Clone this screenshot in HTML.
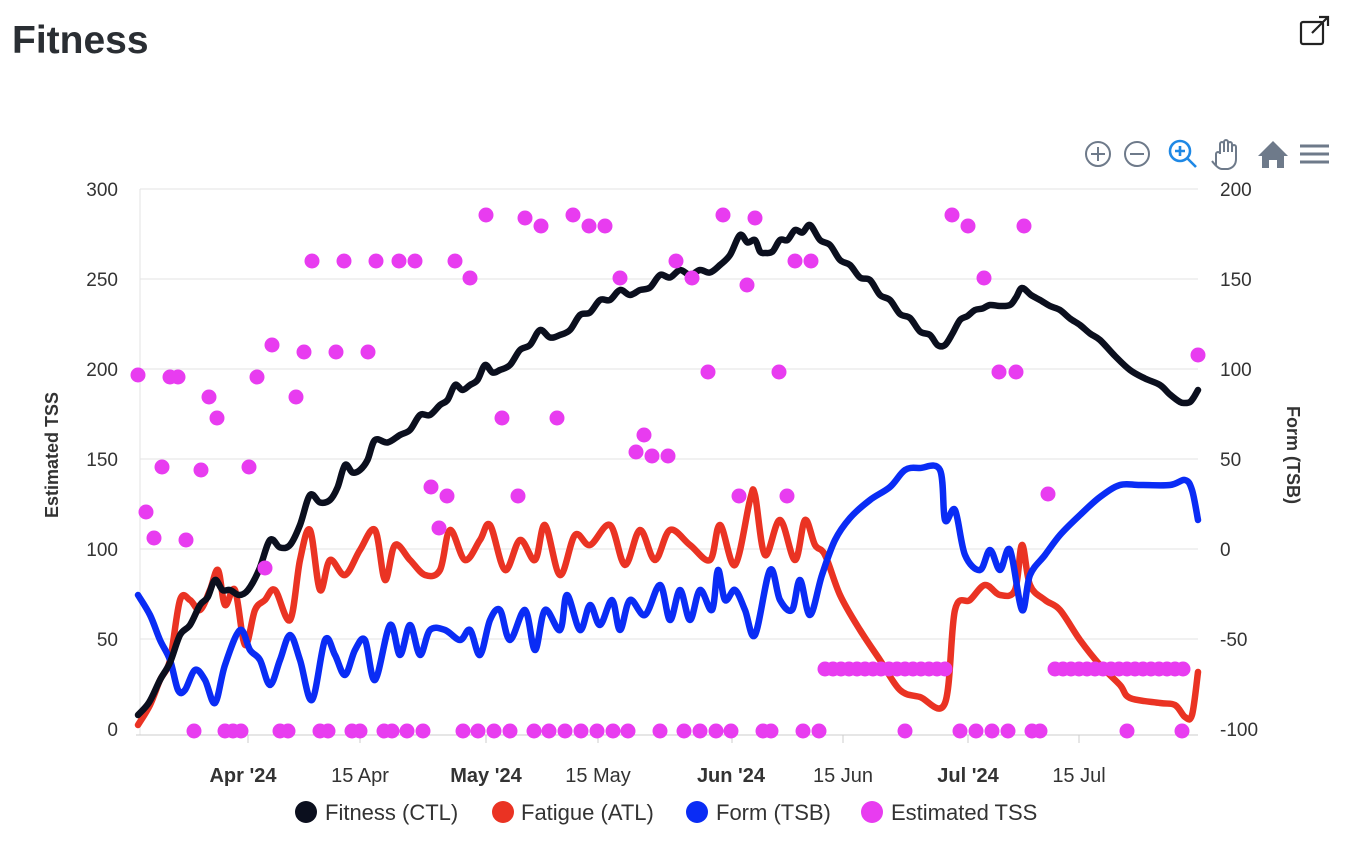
<!DOCTYPE html>
<html><head><meta charset="utf-8"><style>
html,body{margin:0;padding:0;background:#fff;width:1364px;height:866px;overflow:hidden;font-family:"Liberation Sans",sans-serif}
</style></head><body>
<svg id="s" width="1364" height="866" xmlns="http://www.w3.org/2000/svg" font-family="Liberation Sans, sans-serif">
<text x="12" y="53" font-size="39" font-weight="bold" fill="#2a2e33">Fitness</text>
<g stroke="#222" stroke-width="2.2" fill="none"><rect x="1301" y="22" width="22" height="22" rx="2"/><path d="M1312 33 L1328 17 M1319 17 H1328 V26"/></g>
<g stroke="#6e7a8a" stroke-width="2" fill="none">
<circle cx="1098" cy="154" r="12"/><path d="M1091 154h14M1098 147v14"/>
<circle cx="1137" cy="154" r="12"/><path d="M1130 154h14"/>
</g>
<g stroke="#1e88e5" stroke-width="2.6" fill="none"><circle cx="1180" cy="151" r="10"/><path d="M1187 158l9 9M1175 151h10M1180 146v10"/></g>
<path d="M1216 166 v-12 a2 2 0 0 1 4 0 v-10 a2 2 0 0 1 4 0 v8 v-10 a2 2 0 0 1 4 0 v10 v-8 a2 2 0 0 1 4 0 v8 v-5 a2 2 0 0 1 4 0 v12 q0 8 -8 10 h-6 q-4 0 -10 -8" stroke="#6e7a8a" stroke-width="2" fill="none"/>
<path d="M1258 156 L1273 141 L1288 156 H1284 V168 H1277 V160 H1269 V168 H1262 V156Z" fill="#6e7a8a"/>
<g stroke="#6e7a8a" stroke-width="3"><path d="M1300 146h29M1300 154h29M1300 162h29"/></g>
<g id="grid" stroke="#e3e3e3" stroke-width="1"></g>
<line x1="140" y1="189" x2="140" y2="735" stroke="#e3e3e3"/>
<line x1="136" y1="735" x2="1198" y2="735" stroke="#ccc"/>
<g id="lt" font-size="19" fill="#333" text-anchor="end"></g>
<g id="rt" font-size="19" fill="#333"></g>
<text transform="translate(58,455) rotate(-90)" font-size="18" font-weight="bold" fill="#333" text-anchor="middle">Estimated TSS</text>
<text transform="translate(1287,455) rotate(90)" font-size="18" font-weight="bold" fill="#333" text-anchor="middle">Form (TSB)</text>
<g font-size="20" fill="#333" text-anchor="middle">
<text x="243" y="782" font-weight="bold">Apr '24</text><text x="360" y="782">15 Apr</text>
<text x="486" y="782" font-weight="bold">May '24</text><text x="598" y="782">15 May</text>
<text x="731" y="782" font-weight="bold">Jun '24</text><text x="843" y="782">15 Jun</text>
<text x="968" y="782" font-weight="bold">Jul '24</text><text x="1079" y="782">15 Jul</text>
</g>
<g stroke="#ccc"><path d="M248 735v8M360 735v8M486 735v8M598 735v8M732 735v8M843 735v8M968 735v8M1079 735v8"/></g>
<g id="lines" fill="none" stroke-width="6.5" stroke-linejoin="round" stroke-linecap="round"></g>
<g id="dots" fill="#e83cf0"></g>
<g font-size="22" fill="#333">
<circle cx="306" cy="812" r="11" fill="#0b0f1e"/><text x="325" y="820">Fitness (CTL)</text>
<circle cx="503" cy="812" r="11" fill="#ea3323"/><text x="521" y="820">Fatigue (ATL)</text>
<circle cx="697" cy="812" r="11" fill="#0a2cf5"/><text x="716" y="820">Form (TSB)</text>
<circle cx="872" cy="812" r="11" fill="#e83cf0"/><text x="891" y="820">Estimated TSS</text>
</g>
</svg>
<script>
var NS="http://www.w3.org/2000/svg";
function el(p,t,a,txt){var e=document.createElementNS(NS,t);for(var k in a)e.setAttribute(k,a[k]);if(txt!=null)e.textContent=txt;document.getElementById(p).appendChild(e);}
for(var i=0;i<7;i++){var y=189+i*90;if(i<6)el("grid","line",{x1:140,x2:1198,y1:y,y2:y});el("lt","text",{x:118,y:y+7},String(300-i*50));el("rt","text",{x:1220,y:y+7},String(200-i*50));}
function path(pts){var d="M"+pts[0][0]+" "+pts[0][1];for(var i=0;i<pts.length-1;i++){var p0=pts[Math.max(0,i-1)],p1=pts[i],p2=pts[i+1],p3=pts[Math.min(pts.length-1,i+2)];
d+=" C"+(p1[0]+(p2[0]-p0[0])/6).toFixed(1)+" "+(p1[1]+(p2[1]-p0[1])/6).toFixed(1)+" "+(p2[0]-(p3[0]-p1[0])/6).toFixed(1)+" "+(p2[1]-(p3[1]-p1[1])/6).toFixed(1)+" "+p2[0]+" "+p2[1];}return d;}
var ctl=[[138,715],[160,680],[180,635],[200,605],[215,580],[230,590],[248,590],[270,540],[290,545],[310,495],[330,500],[345,465],[360,470],[375,440],[400,435],[420,415],[440,405],[455,385],[470,385],[485,365],[500,370],[520,350],[540,330],[560,335],[580,315],[600,300],[620,290],[640,290],[660,275],[680,270],[700,270],[720,265],[740,235],[755,240],[765,253],[780,240],[795,230],[810,225],[830,245],[850,265],[870,280],[890,300],[910,318],[930,335],[945,345],[960,320],[975,310],[990,305],[1010,305],[1022,288],[1040,300],[1060,310],[1080,325],[1100,340],[1130,370],[1160,385],[1180,402],[1190,402],[1198,390]];
var c2=[];for(var i=0;i<ctl.length-1;i++){c2.push(ctl[i]);var m=[(ctl[i][0]+ctl[i+1][0])/2,(ctl[i][1]+ctl[i+1][1])/2+(ctl[i][0]<940?5:1)];c2.push(m);}c2.push(ctl[ctl.length-1]);
var atl=[[138,725],[150,705],[160,680],[170,660],[180,600],[190,600],[200,610],[210,590],[218,570],[225,605],[235,590],[245,645],[255,610],[265,600],[275,590],[290,620],[300,560],[310,530],[320,590],[330,560],[345,575],[360,550],[375,530],[385,580],[395,545],[410,560],[425,575],[440,570],[450,530],[465,560],[480,540],[490,525],[505,570],[520,540],[535,560],[545,525],[560,575],[575,535],[590,545],[610,525],[625,565],[640,530],[655,560],[670,530],[690,545],[710,560],[720,525],[735,565],[750,500],[755,495],[765,555],[780,520],[795,560],[805,520],[815,545],[825,555],[840,595],[860,630],[880,660],[900,690],[920,697],[945,703],[955,610],[970,600],[985,585],[1000,595],[1015,590],[1022,545],[1030,585],[1045,600],[1060,610],[1080,640],[1100,665],[1120,685],[1130,698],[1160,703],[1175,705],[1185,717],[1192,715],[1198,672]];
var tsb=[[138,595],[150,615],[160,640],[170,660],[178,690],[185,690],[195,670],[205,680],[215,703],[225,665],[240,630],[250,650],[260,660],[270,685],[280,660],[290,635],[300,660],[312,700],[325,640],[335,655],[345,675],[355,650],[365,640],[375,680],[390,625],[400,655],[410,625],[420,655],[430,630],[445,630],[460,640],[470,630],[480,655],[490,620],[500,610],[510,640],[525,610],[535,650],[545,610],[560,630],[567,595],[580,630],[590,605],[600,625],[612,600],[620,630],[630,600],[645,615],[660,585],[670,620],[680,590],[690,620],[700,590],[712,610],[718,570],[725,600],[735,590],[745,610],[755,635],[770,570],[780,600],[792,610],[800,580],[810,615],[822,575],[835,540],[850,518],[870,500],[890,487],[905,470],[920,468],[940,470],[945,520],[955,510],[965,555],[980,570],[990,550],[1000,570],[1010,550],[1022,610],[1030,575],[1045,555],[1060,535],[1080,515],[1100,497],[1120,485],[1140,485],[1170,485],[1185,480],[1192,490],[1198,520]];
el("lines","path",{d:path(atl),stroke:"#ea3323"});
el("lines","path",{d:path(tsb),stroke:"#0a2cf5"});
el("lines","path",{d:path(c2),stroke:"#0b0f1e"});
var dots=[[138,375],[146,512],[154,538],[162,467],[170,377],[178,377],[186,540],[194,731],[201,470],[209,397],[217,418],[225,731],[233,731],[241,731],[249,467],[257,377],[265,568],[272,345],[280,731],[288,731],[296,397],[304,352],[312,261],[320,731],[328,731],[336,352],[344,261],[352,731],[360,731],[368,352],[376,261],[384,731],[392,731],[399,261],[407,731],[415,261],[423,731],[431,487],[439,528],[447,496],[455,261],[463,731],[470,278],[478,731],[486,215],[494,731],[502,418],[510,731],[518,496],[525,218],[534,731],[541,226],[549,731],[557,418],[565,731],[573,215],[581,731],[589,226],[597,731],[605,226],[613,731],[620,278],[628,731],[636,452],[644,435],[652,456],[660,731],[668,456],[676,261],[684,731],[692,278],[700,731],[708,372],[716,731],[723,215],[731,731],[739,496],[747,285],[755,218],[763,731],[771,731],[779,372],[787,496],[795,261],[803,731],[811,261],[819,731],[905,731],[952,215],[960,731],[968,226],[976,731],[984,278],[992,731],[999,372],[1008,731],[1016,372],[1024,226],[1032,731],[1040,731],[1048,494],[1127,731],[1182,731],[1198,355]];
for(var x=825;x<=945;x+=8)dots.push([x,669]);
for(var x=1055;x<=1190;x+=8)dots.push([x,669]);
dots.forEach(function(d){el("dots","circle",{cx:d[0],cy:d[1],r:7.5});});
</script>
</body></html>
